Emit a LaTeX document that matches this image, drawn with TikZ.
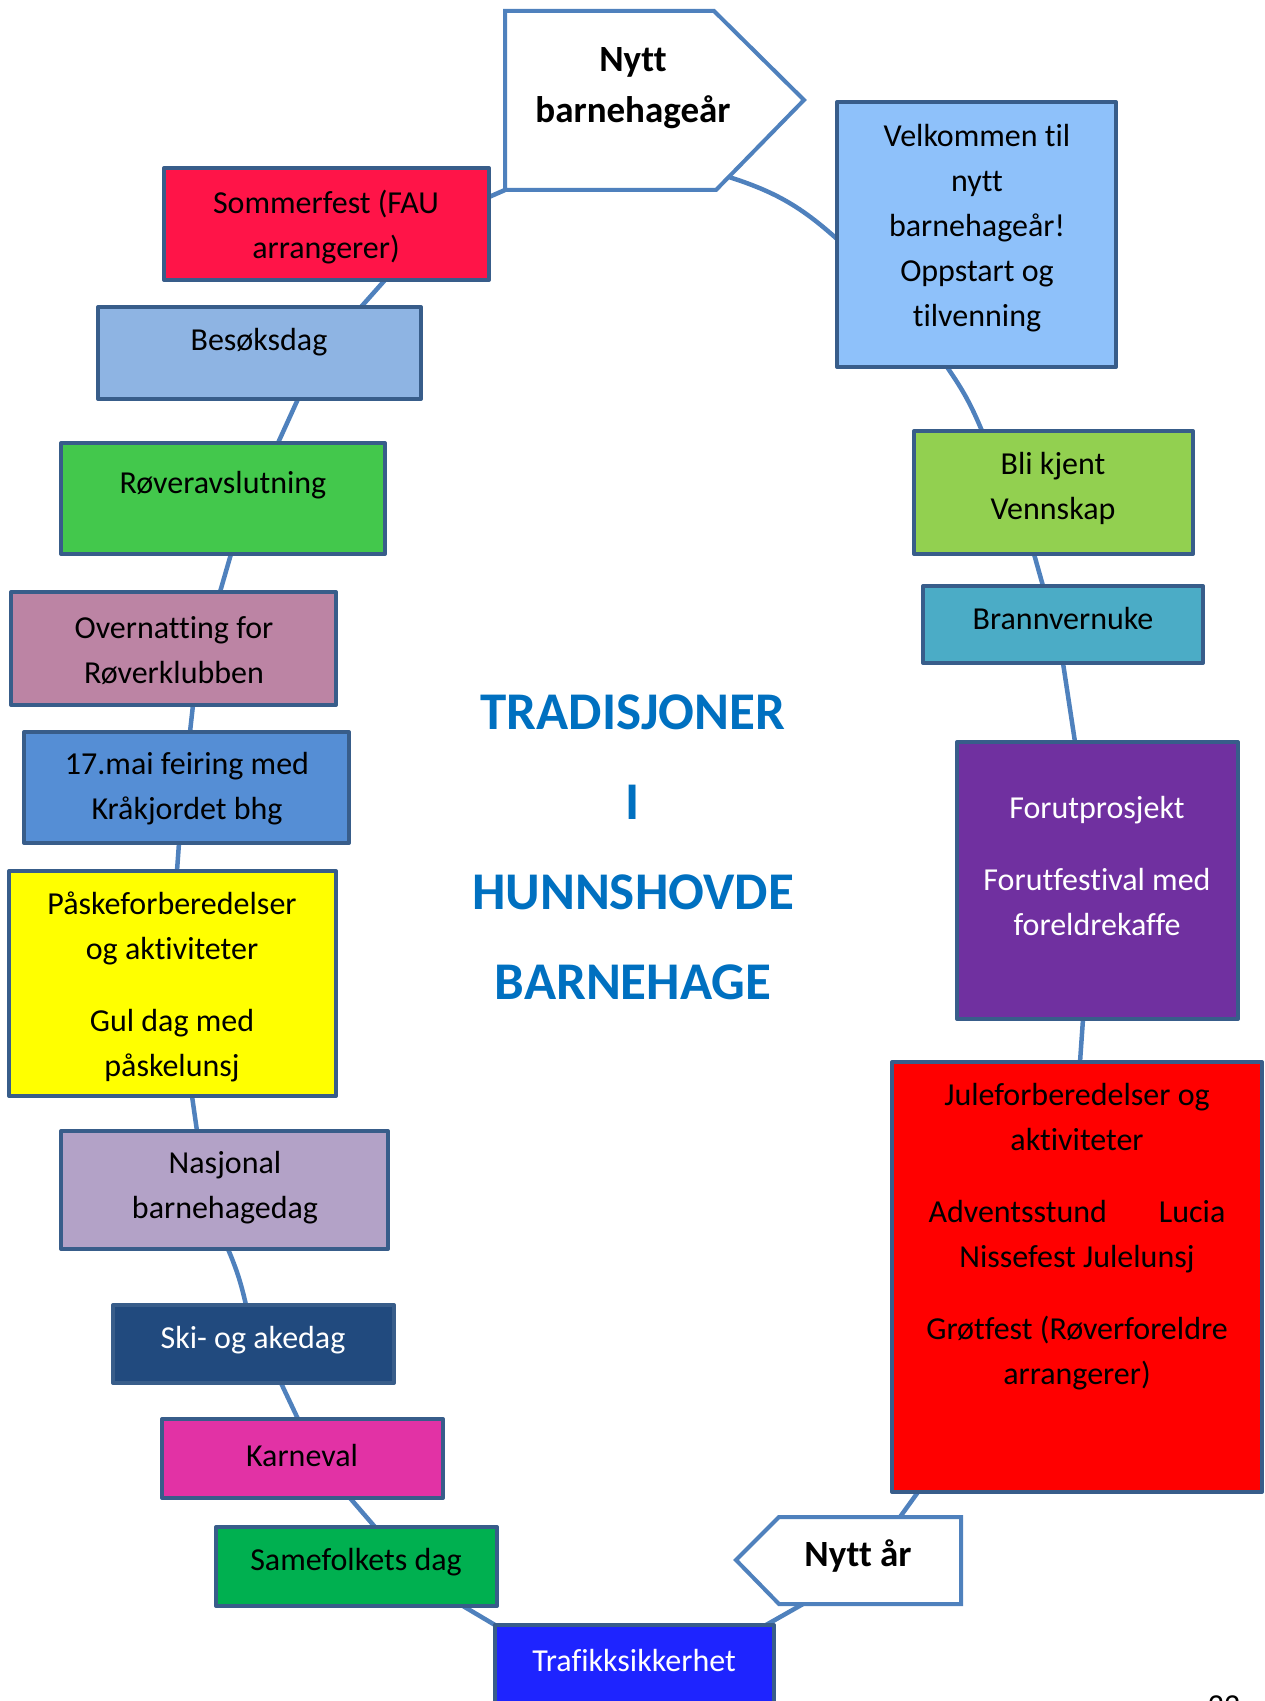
\documentclass[tikz,border=0pt]{standalone}
\usepackage{fontspec}
\setmainfont{Carlito}[Ligatures={NoCommon}]
\usetikzlibrary{fit,backgrounds}
\definecolor{boxline}{RGB}{56,93,138}
\definecolor{connline}{RGB}{79,129,189}
\definecolor{csommer}{RGB}{255,20,72}
\definecolor{cbesok}{RGB}{142,180,227}
\definecolor{croever}{RGB}{67,200,76}
\definecolor{cover}{RGB}{188,132,164}
\definecolor{cmai}{RGB}{85,142,213}
\definecolor{cyellow}{RGB}{255,255,0}
\definecolor{cnasj}{RGB}{179,162,199}
\definecolor{cski}{RGB}{33,74,126}
\definecolor{ckarn}{RGB}{226,50,165}
\definecolor{csame}{RGB}{0,176,80}
\definecolor{ctraf}{RGB}{30,36,255}
\definecolor{cjule}{RGB}{255,0,0}
\definecolor{cforut}{RGB}{112,48,160}
\definecolor{cbrann}{RGB}{75,172,198}
\definecolor{cbli}{RGB}{146,208,80}
\definecolor{cvelk}{RGB}{142,193,250}
\definecolor{titleblue}{RGB}{0,112,192}
\begin{document}
\begin{tikzpicture}[x=0.5pt,y=-0.5pt,
  box/.style={draw=boxline, line width=2pt, line join=round, inner sep=0pt, outer sep=0pt},
  txt/.style={align=center, font=\fontsize{16}{22.5}\selectfont, inner sep=0pt},
  conn/.style={draw=connline, line width=2.25pt},
  tagshape/.style={draw=connline, line width=2pt, line join=miter, fill=white},
  boldtxt/.style={align=center, font=\bfseries\fontsize{18.5}{25.5}\selectfont, inner sep=0pt},
  titletxt/.style={align=center, font=\bfseries\fontsize{26.5}{45}\selectfont, text=titleblue, inner sep=0pt}]
\useasboundingbox (0,0) rectangle (1264,1701);
\clip (0,0) rectangle (1264,1701);

% top tag "Nytt barnehageaar"
\draw[tagshape] (505,11) -- (714,11) -- (804,100) -- (716,190) -- (505,190) -- cycle;
\coordinate (nbA) at (505,190);
\coordinate (nbB) at (729,177);
\node[boldtxt] (tnb) at (633,88) {Nytt\\barnehageår};

% bottom tag "Nytt aar"
\draw[tagshape] (736,1560) -- (779,1517) -- (961,1517) -- (961,1604) -- (779,1604) -- cycle;
\coordinate (nyA) at (900,1517);
\coordinate (nyB) at (803,1604);
\node[boldtxt] (tny) at (858,1556) {Nytt år};

% left column boxes
\node[box, fill=csommer, fit={(164,168) (489,280)}] (sommer) {};
\node[txt] (tsommer) at (326,227) {Sommerfest (FAU\\arrangerer)};

\node[box, fill=cbesok, fit={(98,307) (421,399)}] (besok) {};
\node[txt] (tbesok) at (259,342) {Besøksdag};

\node[box, fill=croever, fit={(61,443) (385,554)}] (roever) {};
\node[txt] (troever) at (223,485) {Røveravslutning};

\node[box, fill=cover, fit={(11,592) (336,705)}] (over) {};
\node[txt] (tover) at (174,650.5) {Overnatting for\\Røverklubben};

\node[box, fill=cmai, fit={(24,732) (349,843)}] (mai) {};
\node[txt] (tmai) at (187,788.5) {17.mai feiring med\\Kråkjordet bhg};

\node[box, fill=cyellow, fit={(9,871) (336,1096)}] (pask) {};
\node[txt] (tpask) at (172,987) {Påskeforberedelser\\og aktiviteter\\[13.5pt]Gul dag med\\påskelunsj};

\node[box, fill=cnasj, fit={(61,1131) (388,1249)}] (nasj) {};
\node[txt] (tnasj) at (225,1188) {Nasjonal\\barnehagedag};

\node[box, fill=cski, fit={(113,1305) (394,1383)}] (ski) {};
\node[txt, text=white] (tski) at (253,1340) {Ski- og akedag};

\node[box, fill=ckarn, fit={(162,1419) (443,1498)}] (karn) {};
\node[txt] (tkarn) at (302,1455) {Karneval};

\node[box, fill=csame, fit={(216,1527) (497,1606)}] (same) {};
\node[txt] (tsame) at (356,1562) {Samefolkets dag};

\node[box, fill=ctraf, fit={(495,1625) (774,1740)}] (traf) {};
\node[txt, text=white] (ttraf) at (634,1660) {Trafikksikkerhet};

% right column boxes
\node[box, fill=cvelk, fit={(837,102) (1116,367)}] (velk) {};
\node[txt] (tvelk) at (977,228) {Velkommen til\\nytt\\barnehageår!\\Oppstart og\\tilvenning};

\node[box, fill=cbli, fit={(914,431) (1193,554)}] (bli) {};
\node[txt] (tbli) at (1053,488.5) {Bli kjent\\Vennskap};

\node[box, fill=cbrann, fit={(923,586) (1203,663)}] (brann) {};
\node[txt] (tbrann) at (1063,619) {Brannvernuke};

\node[box, fill=cforut, fit={(957,742) (1238,1019)}] (forut) {};
\node[txt, text=white] (tforut) at (1097,866) {Forutprosjekt\\[13.5pt]Forutfestival med\\foreldrekaffe};

\node[box, fill=cjule, fit={(892,1062) (1262,1492)}] (jule) {};
\node[txt] (tjule) at (1077,1237) {Juleforberedelser og\\aktiviteter\\[13.5pt]Adventsstund\hspace{26pt}Lucia\\Nissefest Julelunsj\\[13.5pt]Grøtfest (Røverforeldre\\arrangerer)};

% title
\node[titletxt] (title) at (633,847) {TRADISJONER\\I\\HUNNSHOVDE\\BARNEHAGE};

% page number
\node[txt] (pnum) at (1224,1706) {22};

% connectors
\begin{pgfonlayer}{background}
\draw[conn] (nbA) -- ([yshift=-14.5pt]sommer.north east);
\draw[conn] ([xshift=29.25pt]sommer.south) -- ([xshift=50.75pt]besok.north);
\draw[conn] ([xshift=19.25pt]besok.south) -- ([xshift=27.5pt]roever.north);
\draw[conn] ([xshift=4pt]roever.south) -- ([xshift=23.25pt]over.north);
\draw[conn] ([xshift=9.75pt]over.south) -- ([xshift=1.75pt]mai.north);
\draw[conn] ([xshift=-3.75pt]mai.south) -- ([xshift=2.25pt]pask.north);
\draw[conn] ([xshift=9.75pt]pask.south) -- ([xshift=-13.75pt]nasj.north);
\draw[conn] ([xshift=1.75pt]nasj.south) to[bend left=5] ([xshift=-3.75pt]ski.north);
\draw[conn] ([xshift=13.75pt]ski.south) -- ([xshift=-2.25pt]karn.north);
\draw[conn] ([xshift=23.75pt]karn.south) -- ([xshift=9.25pt]same.north);
\draw[conn] ([xshift=53.25pt]same.south) -- (traf.north west);
\draw[conn] ([xshift=-4pt]traf.north east) -- (nyB);
\draw[conn] (nyA) -- ([xshift=-79.5pt]jule.south);
\draw[conn] ([xshift=-7.25pt]forut.south) -- ([xshift=1.5pt]jule.north);
\draw[conn] (brann.south) -- ([xshift=-11.25pt]forut.north);
\draw[conn] ([xshift=-9.75pt]bli.south) -- ([xshift=-10pt]brann.north);
\draw[conn] ([xshift=-14.75pt]velk.south) to[bend left=6] ([xshift=-35.75pt]bli.north);
\draw[conn] (nbB) to[bend left=12] ([yshift=-2.25pt]velk.west);
\end{pgfonlayer}
\end{tikzpicture}
\end{document}
